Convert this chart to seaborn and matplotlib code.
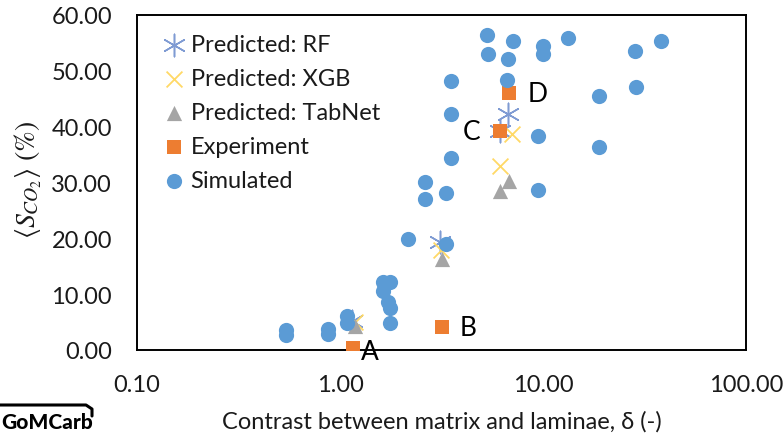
import matplotlib
matplotlib.use("Agg")
import matplotlib.pyplot as plt
from matplotlib.lines import Line2D
from matplotlib.ticker import FixedLocator, FuncFormatter, NullLocator
import seaborn as sns

# Simulated CO2 storage efficiency vs. matrix/laminae contrast
sim_delta = [0.54, 0.54, 0.87, 0.87, 1.08, 1.08, 1.63, 1.76, 1.63, 1.72, 1.76, 1.76,
             2.16, 3.33, 2.62, 2.62, 3.33, 3.52, 3.52, 3.52, 5.30, 7.11, 5.36, 6.73,
             10.0, 10.0, 13.3, 6.65, 9.45, 28.4, 38.1, 28.7, 18.9, 18.9, 9.45]
sim_s = [3.6, 2.7, 3.7, 2.8, 6.1, 4.8, 12.2, 12.2, 10.6, 8.6, 7.5, 4.8,
         19.9, 19.0, 30.1, 27.0, 28.1, 48.2, 42.3, 34.4, 56.4, 55.3, 53.0, 52.1,
         54.4, 53.0, 55.9, 48.4, 38.3, 53.6, 55.3, 47.1, 45.5, 36.4, 28.6]

# Experimental cases A-D
exp_labels = ["A", "B", "C", "D"]
exp_delta = [1.16, 3.18, 6.14, 6.81]
exp_s = [0.3, 4.1, 39.2, 46.0]

# Model predictions for the experimental cases
rf_delta = [1.15, 3.11, 6.14, 6.73]
rf_s = [5.2, 19.3, 39.3, 42.3]
xgb_delta = [1.18, 3.15, 6.14, 7.03]
xgb_s = [5.0, 18.0, 33.0, 38.7]
tab_delta = [1.18, 3.18, 6.14, 6.81]
tab_s = [4.3, 16.3, 28.5, 30.3]

x_ticks = [0.1, 1, 10, 100]
y_ticks = [0, 10, 20, 30, 40, 50, 60]

sns.set_theme(style="white")
plt.rcParams["font.family"] = ["Lato", "DejaVu Sans"]
plt.rcParams["mathtext.fontset"] = "stix"

fig = plt.figure(figsize=(7.83, 4.35), dpi=100)
ax = fig.add_axes([137 / 783, 1 - 351 / 435, 609 / 783, 335 / 435])

c_rf = "#7F9BD3"
c_xgb = "#FFD966"
c_tab = "#A5A5A5"
c_exp = "#ED7D31"
c_sim = "#5B9BD5"
txt = "#1a1a1a"

sns.scatterplot(x=rf_delta, y=rf_s, ax=ax, marker=(6, 2, 0), s=260,
                color=c_rf, linewidth=1.1, edgecolor=c_rf, label="Predicted: RF", zorder=3)
sns.scatterplot(x=xgb_delta, y=xgb_s, ax=ax, marker="x", s=130,
                color=c_xgb, linewidth=1.3, label="Predicted: XGB", zorder=4)
sns.scatterplot(x=tab_delta, y=tab_s, ax=ax, marker="^", s=120,
                color=c_tab, linewidth=0, label="Predicted: TabNet", zorder=5)
sns.scatterplot(x=exp_delta, y=exp_s, ax=ax, marker="s", s=110,
                color=c_exp, linewidth=0, label="Experiment", zorder=6)
sns.scatterplot(x=sim_delta, y=sim_s, ax=ax, marker="o", s=120,
                color=c_sim, linewidth=0, label="Simulated", zorder=7)

# Case labels beside the experimental points
offsets = {"A": (6, -2, "left"), "B": (13, 0, "left"), "C": (-14, 0, "right"), "D": (13, 0, "left")}
for lab, xd, yd in zip(exp_labels, exp_delta, exp_s):
    dx, dy, ha = offsets[lab]
    ax.annotate(lab, xy=(xd, yd), xytext=(dx, dy), textcoords="offset points",
                ha=ha, va="center", fontsize=19, color="black", zorder=8)

ax.set_xscale("log")
ax.set_xlim(0.1, 100)
ax.set_ylim(0, 60)
ax.xaxis.set_major_locator(FixedLocator(x_ticks))
ax.xaxis.set_minor_locator(NullLocator())
ax.yaxis.set_major_locator(FixedLocator(y_ticks))
ax.xaxis.set_major_formatter(FuncFormatter(lambda v, p: f"{v:.2f}"))
ax.yaxis.set_major_formatter(FuncFormatter(lambda v, p: f"{v:.2f}"))
ax.tick_params(axis="both", length=0, labelsize=17, colors=txt)
ax.tick_params(axis="x", pad=17)
ax.tick_params(axis="y", pad=18)

for sp in ax.spines.values():
    sp.set_visible(True)
    sp.set_color("black")
    sp.set_linewidth(1.4)

ax.set_xlabel("Contrast between matrix and laminae, δ (-)", fontsize=17, color=txt)
ax.set_ylabel(r"$\langle S_{CO_2}\rangle\ (\%)$", fontsize=20, color=txt)
ax.xaxis.set_label_coords(0.5, -0.18)
ax.yaxis.set_label_coords(-0.152, 0.51)

leg = ax.legend(loc="upper left", bbox_to_anchor=(0.03, 0.972), frameon=False,
                fontsize=17, handlelength=0.8, handletextpad=0.3, labelspacing=0.55,
                borderaxespad=0)
for t in leg.get_texts():
    t.set_color(txt)

# Project logo in the lower-left corner
fig.text(0.002, 0.008, "GoMCarb", fontsize=15, fontweight="black", color="black",
         ha="left", va="bottom")
fig.add_artist(Line2D([0, 86 / 783, 92 / 783, 92 / 783],
                      [1 - 406 / 435, 1 - 406 / 435, 1 - 410 / 435, 1 - 417 / 435],
                      color="black", linewidth=2.2, transform=fig.transFigure))

fig.savefig("out.png", dpi=100)
